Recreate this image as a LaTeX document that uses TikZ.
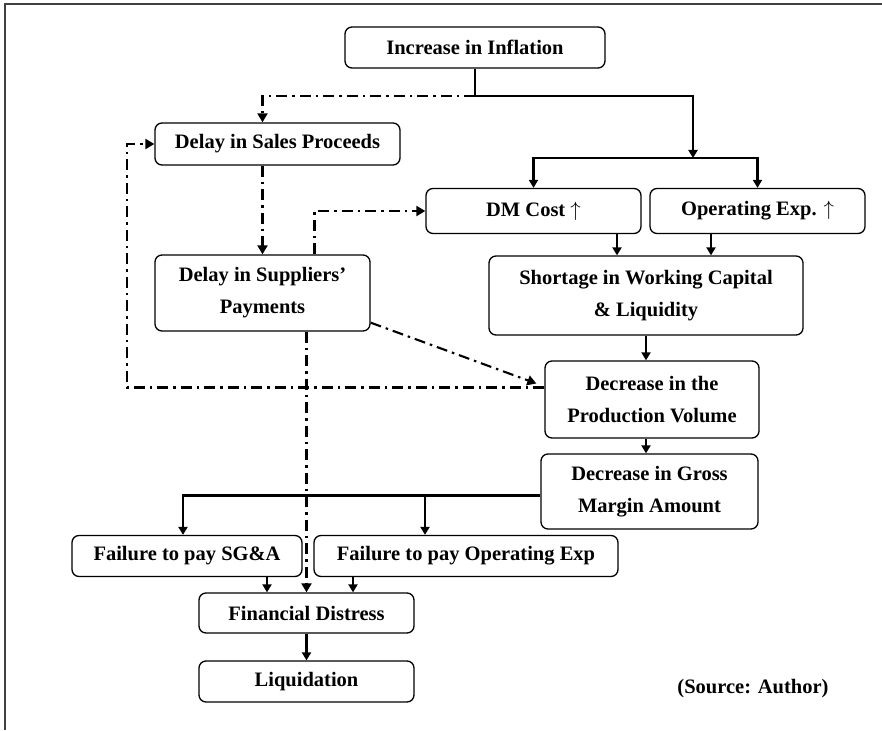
\documentclass[tikz,border=0pt]{standalone}
\usepackage{fontspec}
\setmainfont{Liberation Serif}
\usetikzlibrary{arrows.meta, positioning}

\begin{document}
\begin{tikzpicture}[x=1pt, y=-1pt,
  box/.style={draw, line width=1.3pt, rounded corners=7pt, align=center,
    inner sep=0pt, font=\fontsize{20.5}{32}\selectfont\bfseries},
  plain/.style={line width=2.1pt},
  link/.style={plain, -{Triangle[length=8pt, width=9pt]}},
  chain/.style={line width=2.1pt, dash pattern=on 11pt off 5pt on 2.5pt off 5pt},
  chainlink/.style={chain, -{Triangle[length=9pt, width=10pt]}}]
\useasboundingbox (0,0) rectangle (882,730);

% Frame
\draw[line width=1.8pt, black!75] (5,730) -- (5,4) -- (882,4);

% Boxes
\node[box, minimum width=260pt, minimum height=41pt] (infl) at (475,47.5) {Increase in Inflation};
\node[box, minimum width=245pt, minimum height=42pt] (sales) at (277.5,144) {Delay in Sales Proceeds};
\node[box, minimum width=215pt, minimum height=76pt] (supp) at (262.5,293) {Delay in Suppliers’\\Payments};
\node[box, minimum width=215pt, minimum height=45pt] (dm) at (533.5,211) {DM Cost $\uparrow$};
\node[box, minimum width=215pt, minimum height=45pt] (opex) at (757.5,211) {Operating Exp. $\uparrow$};
\node[box, minimum width=314pt, minimum height=79pt] (short) at (646,295.5) {Shortage in Working Capital\\\& Liquidity};
\node[box, minimum width=214pt, minimum height=77pt] (prod) at (652,399.5) {Decrease in the\\Production Volume};
\node[box, minimum width=217pt, minimum height=75pt] (gross) at (649.5,491.5) {Decrease in Gross\\Margin Amount};
\node[box, minimum width=230pt, minimum height=41pt] (sga) at (187,556) {Failure to pay SG\&A};
\node[box, minimum width=304pt, minimum height=41pt] (opfail) at (466,556) {Failure to pay Operating Exp};
\node[box, minimum width=215pt, minimum height=40pt] (distress) at (306.5,613) {Financial Distress};
\node[box, minimum width=215pt, minimum height=41pt] (liq) at (306.5,681.5) {Liquidation};
\node[font=\fontsize{20.5}{24}\selectfont\bfseries] (src) at (753,689) {(Source: Author)};

% Solid flow
\coordinate (split) at (475,96);
\coordinate (fork) at (693,158);
\draw[plain] (infl.south) -- (split);
\draw[link] (split) -| (fork);
\draw[link] (fork) -| (dm.north);
\draw[link] (fork) -| (opex.north);
\draw[link] ([xshift=83.5pt]dm.south) coordinate (dmout) -- (dmout |- short.north);
\draw[link] ([xshift=-46.5pt]opex.south) coordinate (opout) -- (opout |- short.north);
\draw[link] (short.south) -- (short.south |- prod.north);
\draw[link] (prod.south -| short.south) -- (short.south |- gross.north);
\draw[link] ([yshift=-4pt]gross.west) -| ([xshift=-4pt]sga.north);
\coordinate (gfork) at (425,495.5);
\draw[link] (gfork) -- (gfork |- opfail.north);
\draw[link] ([xshift=80pt]sga.south) coordinate (s1) -- (s1 |- distress.north);
\draw[link] ([xshift=-113pt]opfail.south) coordinate (s2) -- (s2 |- distress.north);
\draw[link] (distress) -- (liq);

% Delay chain
\coordinate (back) at (127,144);
\draw[chainlink] (split) -| (sales.north -| supp.north);
\draw[chainlink] (sales.south -| supp.north) -- (supp.north);
\draw[chainlink] ([xshift=52pt]supp.north) |- (dm.west);
\draw[chainlink] ([yshift=9pt]supp.south east) -- ([shift={(-8,-16)}]prod.west);
\draw[chainlink] ([yshift=12pt]prod.west) -| (back) -- (sales.west);
\draw[chainlink] (supp.south -| distress.north) -- (distress.north);
\end{tikzpicture}
\end{document}
